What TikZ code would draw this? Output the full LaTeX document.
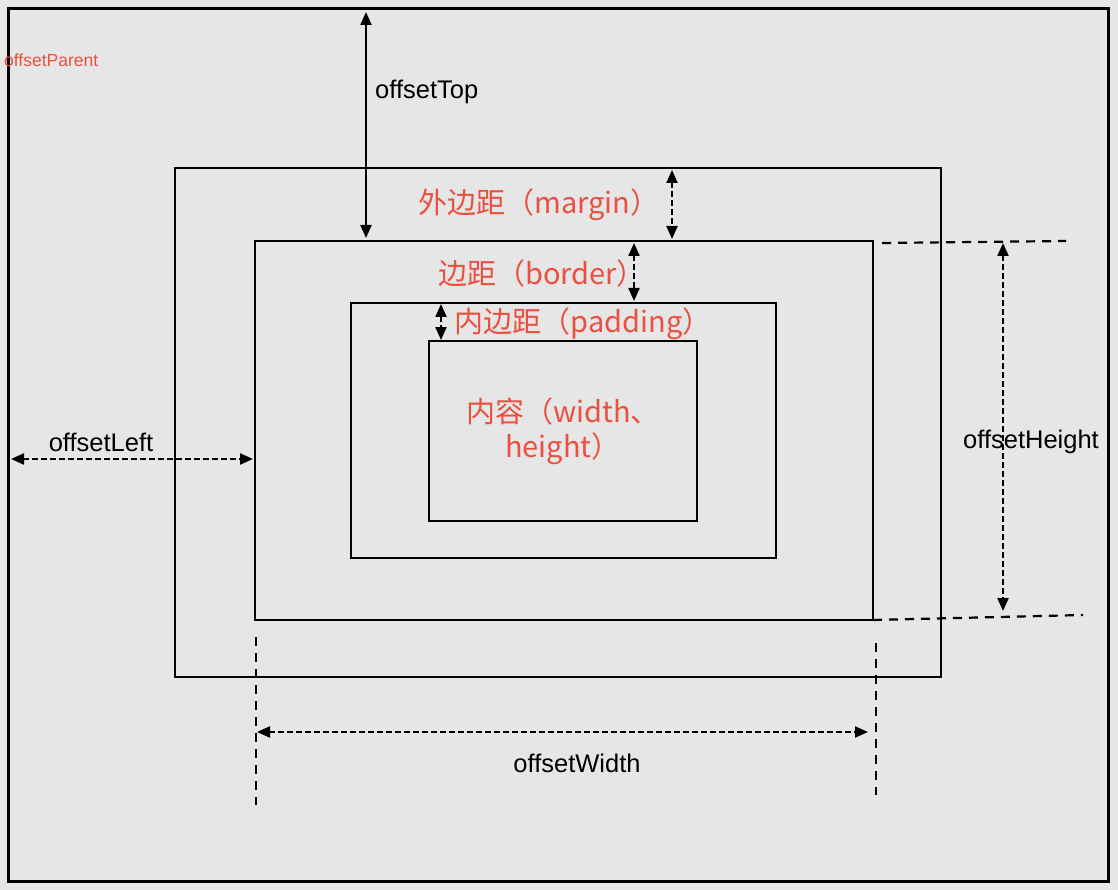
\documentclass[tikz,border=0pt]{standalone}
\usepackage{fontspec}
\setmainfont{Liberation Sans}
\newfontfamily\cjk{Noto Sans CJK SC}
\usetikzlibrary{arrows.meta}
\definecolor{bggray}{RGB}{230,230,230}
\definecolor{labelred}{RGB}{234,80,64}
\tikzset{
  box/.style={draw=black, line width=2.6pt, inner sep=0pt, outer sep=0pt},
  dim/.style={{Triangle[width=11pt,length=13pt]}-{Triangle[width=11pt,length=13pt]}, line width=2.2pt},
  dimdash/.style={dim, dash pattern=on 6pt off 3pt},
  guide/.style={line width=2.2pt, dash pattern=on 9pt off 7pt},
  redlabel/.style={text=labelred, font=\cjk\fontsize{29}{35}\selectfont},
  blacklabel/.style={text=black, font=\fontsize{25.5}{30}\selectfont}
}
\begin{document}
\begin{tikzpicture}[x=1pt,y=-1pt]
\tikzstyle{every node}+=[inner sep=0pt]
\fill [bggray] (0,0) rectangle (1118,890);
\useasboundingbox (0,0) rectangle (1118,890);
\node [box, line width=3pt, minimum width=1100pt, minimum height=872pt] (parent) at (558,445) {};
\node [box, minimum width=766pt, minimum height=509pt] (margin) at (558,422.5) {};
\node [box, minimum width=618pt, minimum height=379pt] (border) at (564,430.5) {};
\node [box, minimum width=425pt, minimum height=255pt] (padding) at (563.5,430.5) {};
\node [box, minimum width=268pt, minimum height=180pt] (content) at (563,431) {};
\coordinate (tx) at (366,0);
\coordinate (mx) at (672,0);
\coordinate (bx) at (634,0);
\coordinate (px) at (441,0);
\coordinate (ly) at (0,459);
\coordinate (hx) at (1003,0);
\coordinate (wy) at (0,732);
\coordinate (htop) at (1066,241);
\coordinate (hbot) at (1083,615);
\coordinate (wleft) at (256,805);
\coordinate (wright) at (876,795);
\draw [dim, shorten <=3pt, shorten >=3pt] (parent.north -| tx) -- (border.north -| tx);
\draw [dimdash, shorten <=2pt, shorten >=2pt] (margin.north -| mx) -- (border.north -| mx);
\draw [dimdash, shorten <=2pt, shorten >=2pt] (border.north -| bx) -- (padding.north -| bx);
\draw [dimdash, shorten <=1pt, shorten >=1pt] (padding.north -| px) -- (content.north -| px);
\draw [dimdash, shorten <=3pt, shorten >=2pt] (parent.west |- ly) -- (border.west |- ly);
\draw [guide] ([xshift=9pt,yshift=-2pt]border.north east) -- (htop);
\draw [guide] (border.south east) -- (hbot);
\draw [dimdash, shorten <=2pt, shorten >=4pt] (htop -| hx) -- (hbot -| hx);
\draw [guide] ([xshift=1pt,yshift=-17pt]border.south west) -- (wleft);
\draw [guide] ([xshift=3pt,yshift=-23pt]border.south east) -- (wright);
\draw [dimdash, shorten <=1pt, shorten >=8pt] (wleft |- wy) -- (wright |- wy);
\node [text=labelred, font=\fontsize{17.5}{20}\selectfont, anchor=west] (parentlabel) at (4,60) {offsetParent};
\node [blacklabel, anchor=west] (toplabel) at (375,92) {offsetTop};
\node [blacklabel] (leftlabel) at (101,442) {offsetLeft};
\node [blacklabel] (heightlabel) at (1031,442) {offsetHeight};
\node [blacklabel] (widthlabel) at (577,763) {offsetWidth};
\node [redlabel] (marginlabel) at (539,205) {外边距（margin）};
\node [redlabel] (borderlabel) at (542,273) {边距（border）};
\node [redlabel] (paddinglabel) at (583,324) {内边距（padding）};
\node [redlabel, align=center] (contentlabel) at (563,431) {内容（width、\\height）};
\end{tikzpicture}
\end{document}
